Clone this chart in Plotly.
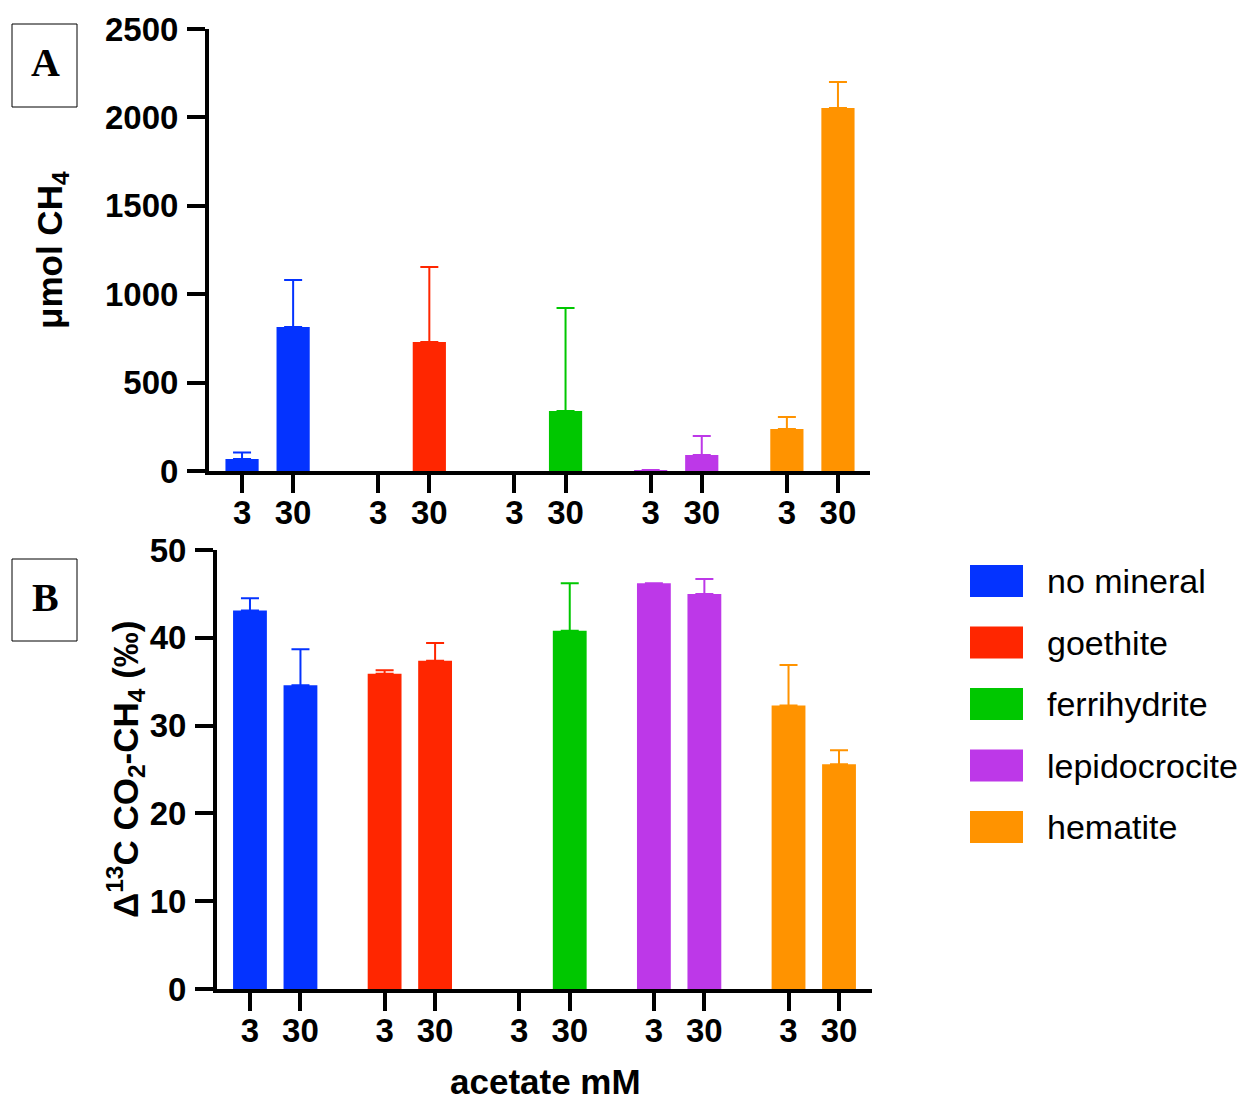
import plotly.graph_objects as go

# ---------------- data ----------------
minerals = ["no mineral", "goethite", "ferrihydrite", "lepidocrocite", "hematite"]
colors = ["#0433FF", "#FF2600", "#00C700", "#BD38E8", "#FF9300"]
acetate = ["3", "30"]

# Panel A: umol CH4 (mean, upper SD) for [3 mM, 30 mM]
ch4_mean = [[68, 814], [None, 730], [None, 339], [2, 90], [238, 2053]]
ch4_err = [[37, 266], [None, 424], [None, 583], [4, 108], [67, 147]]

# Panel B: Delta13C CO2-CH4 (permil)
d13c_mean = [[43.1, 34.6], [35.9, 37.4], [None, 40.8], [46.2, 45.0], [32.3, 25.6]]
d13c_err = [[1.4, 4.1], [0.4, 2.0], [None, 5.4], [0, 1.7], [4.6, 1.6]]

ya_ticks = [0, 500, 1000, 1500, 2000, 2500]
yb_ticks = [0, 10, 20, 30, 40, 50]

# ---------------- layout constants ----------------
W, H = 1247, 1099
OFF = 8  # page body margin
FONT = "Arial, Liberation Sans, sans-serif"
GROUP_STEP = 8 / 3


def px(x):
    return (x - OFF) / W


def py(y):
    return 1 - (y - OFF) / H


positions = []
for g in range(len(minerals)):
    positions.append([g * GROUP_STEP, g * GROUP_STEP + 1])
all_pos = [p for pair in positions for p in pair]
all_text = acetate * len(minerals)

fig = go.Figure()

for g, name in enumerate(minerals):
    fig.add_trace(go.Bar(
        x=positions[g], y=ch4_mean[g], width=0.65,
        marker=dict(color=colors[g], line=dict(width=0)),
        error_y=dict(type="data", symmetric=False, array=ch4_err[g],
                     arrayminus=[0, 0], color=colors[g], thickness=2, width=9),
        xaxis="x", yaxis="y", showlegend=False, name=name))
    fig.add_trace(go.Bar(
        x=positions[g], y=d13c_mean[g], width=0.67,
        marker=dict(color=colors[g], line=dict(width=0)),
        error_y=dict(type="data", symmetric=False, array=d13c_err[g],
                     arrayminus=[0, 0], color=colors[g], thickness=2, width=9),
        xaxis="x2", yaxis="y2", showlegend=False, name=name))

tickfont = dict(family=FONT, size=33, color="black", weight="bold")
common_axis = dict(showline=True, linewidth=4, linecolor="black", ticks="outside",
                   ticklen=18, tickwidth=4, tickcolor="black", showgrid=False,
                   zeroline=False, tickfont=tickfont, automargin=False)

fig.update_layout(
    width=W, height=H, autosize=False,
    margin=dict(l=0, r=0, t=0, b=0, autoexpand=False),
    paper_bgcolor="white", plot_bgcolor="white",
    barmode="overlay",
    xaxis=dict(domain=[px(209), px(870)], range=[-0.647, 12.294], anchor="y",
               tickvals=all_pos, ticktext=all_text, ticklabelstandoff=-9, **common_axis),
    yaxis=dict(domain=[py(471), py(29)], range=[0, 2500], anchor="x",
               tickvals=ya_ticks, ticklabelstandoff=2, **common_axis),
    xaxis2=dict(domain=[px(217), px(872)], range=[-0.653, 12.32], anchor="y2",
                tickvals=all_pos, ticktext=all_text, ticklabelstandoff=-9, **common_axis),
    yaxis2=dict(domain=[py(989), py(550)], range=[0, 50], anchor="x2",
                tickvals=yb_ticks, ticklabelstandoff=2, **common_axis),
)

shapes = []
annotations = []

# axis titles
title_font = dict(family=FONT, size=35, color="black", weight="bold")
annotations.append(dict(x=px(52), y=py(250), xref="paper", yref="paper",
                        text="μmol CH<sub>4</sub>", textangle=-90, showarrow=False,
                        font=title_font, xanchor="center", yanchor="middle"))
annotations.append(dict(x=px(125), y=py(770), xref="paper", yref="paper",
                        text="Δ<sup>13</sup>C CO<sub>2</sub>-CH<sub>4</sub> (‰)",
                        textangle=-90, showarrow=False,
                        font=title_font, xanchor="center", yanchor="middle"))
annotations.append(dict(x=px(545), y=py(1081), xref="paper", yref="paper",
                        text="acetate mM", showarrow=False, font=title_font,
                        xanchor="center", yanchor="middle"))

# panel letters
for letter, (y0, y1) in zip(["A", "B"], [(24, 107), (559, 641)]):
    shapes.append(dict(type="rect", xref="paper", yref="paper",
                       x0=px(12), x1=px(77), y0=py(y1), y1=py(y0),
                       line=dict(color="black", width=1), fillcolor="white"))
    annotations.append(dict(x=px(45), y=py((y0 + y1) / 2 - 3), xref="paper", yref="paper",
                            text=letter, showarrow=False,
                            font=dict(family="Times New Roman, Liberation Serif, serif",
                                      size=40, color="black", weight="bold"),
                            xanchor="center", yanchor="middle"))

# legend
for i, name in enumerate(minerals):
    top = 565 + i * 61.5
    shapes.append(dict(type="rect", xref="paper", yref="paper",
                       x0=px(970), x1=px(1023), y0=py(top + 32), y1=py(top),
                       line=dict(width=0), fillcolor=colors[i]))
    annotations.append(dict(x=px(1045), y=py(top + 16), xref="paper", yref="paper",
                            text=name, showarrow=False,
                            font=dict(family=FONT, size=34, color="black"),
                            xanchor="left", yanchor="middle"))

fig.update_layout(shapes=shapes, annotations=annotations)

fig.write_html("out.html")
